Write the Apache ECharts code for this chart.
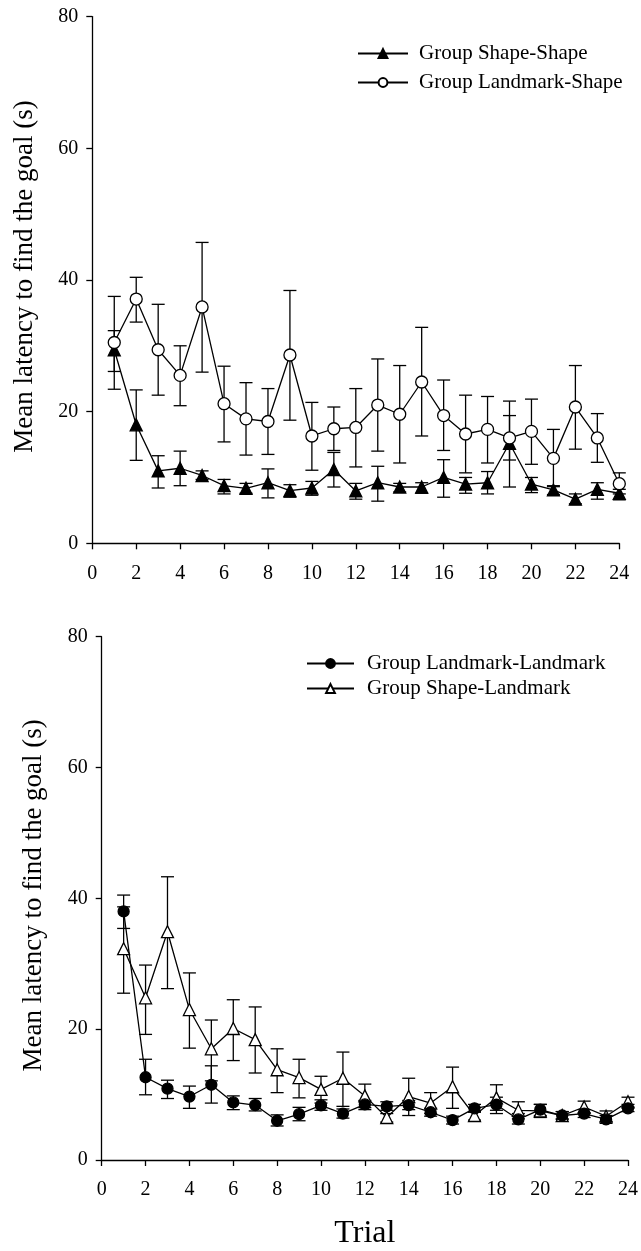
<!DOCTYPE html>
<html>
<head>
<meta charset="utf-8">
<script src="https://cdn.jsdelivr.net/npm/echarts@6/dist/echarts.min.js"></script>
<style>
html,body{margin:0;padding:0;background:#fff;}
#chart{width:641px;height:1251px;}
</style>
</head>
<body>
<div id="chart"></div>
<script>
// ---- data ----
const trials = [1,2,3,4,5,6,7,8,9,10,11,12,13,14,15,16,17,18,19,20,21,22,23,24];
const xTicks = [0,2,4,6,8,10,12,14,16,18,20,22,24];
const yTicks = [0,20,40,60,80];

// Top panel: Group Shape-Shape (filled triangles)
const shapeShapeMean = [29.4,18.0,11.0,11.4,10.3,8.75,8.35,9.2,8.0,8.4,11.2,7.95,9.2,8.55,8.55,10.0,9.0,9.2,15.2,9.0,8.1,6.7,8.2,7.6];
const shapeShapeHi   = [32.3,23.3,13.3,14.0,11.0,9.7,9.1,11.3,8.9,9.4,13.8,9.1,11.7,9.1,9.2,12.7,10.0,10.9,21.6,10.0,8.75,7.5,9.2,8.2];
const shapeShapeLo   = [26.1,12.6,8.4,8.75,9.7,7.5,7.6,6.9,7.0,7.3,8.55,6.7,6.4,7.8,7.6,7.0,7.6,7.5,8.55,7.7,7.4,6.0,6.7,6.6];

// Top panel: Group Landmark-Shape (open circles)
const landmarkShapeMean = [30.5,37.1,29.4,25.5,35.9,21.2,18.9,18.5,28.6,16.3,17.4,17.6,21.0,19.6,24.5,19.4,16.6,17.3,16.0,17.0,12.9,20.7,16.0,9.05];
const landmarkShapeHi   = [37.5,40.4,36.3,30.0,45.7,26.9,24.4,23.5,38.4,21.4,20.7,23.5,28.0,27.0,32.8,24.8,22.5,22.3,19.4,21.9,17.3,27.0,19.7,10.7];
const landmarkShapeLo   = [23.4,33.6,22.5,20.9,26.0,15.4,13.4,13.5,18.7,11.1,14.1,11.6,14.0,12.2,16.3,14.1,10.7,12.2,12.65,12.0,8.6,14.3,12.3,7.5];

// Bottom panel: Group Landmark-Landmark (filled circles)
const landmarkLandmarkMean = [38.0,12.65,10.9,9.7,11.5,8.8,8.4,6.0,7.0,8.35,7.1,8.5,8.2,8.4,7.3,6.1,7.9,8.45,6.2,7.7,6.8,7.1,6.2,7.9];
const landmarkLandmarkHi   = [40.5,15.4,12.2,11.3,14.4,9.8,9.4,6.9,8.05,9.2,7.8,9.1,8.9,9.1,7.9,6.7,8.5,9.6,7.1,8.5,7.4,7.7,6.8,8.5];
const landmarkLandmarkLo   = [35.4,9.97,9.4,7.9,8.7,7.7,7.5,5.2,6.0,7.6,6.4,7.7,7.6,7.7,6.7,5.5,7.3,7.1,5.5,6.8,6.3,6.5,5.6,7.4];

// Bottom panel: Group Shape-Landmark (open triangles)
const shapeLandmarkMean = [32.3,24.8,34.9,23.0,17.0,20.1,18.4,13.8,12.6,10.8,12.5,9.8,6.5,9.7,8.7,11.2,6.8,9.5,7.6,7.5,6.8,8.1,6.7,8.9];
const shapeLandmarkHi   = [38.7,29.8,43.3,28.6,21.4,24.5,23.4,17.0,15.4,12.8,16.5,11.6,7.1,12.5,10.3,14.2,7.4,11.5,8.9,8.5,7.4,9.0,7.5,9.6];
const shapeLandmarkLo   = [25.5,19.2,26.2,17.1,12.1,15.2,13.3,10.3,9.5,8.7,8.2,8.0,5.8,6.8,7.1,7.9,6.1,7.6,6.3,6.5,6.2,7.2,5.9,8.1];

const seriesNames = ['Group Shape-Shape','Group Landmark-Shape','Group Landmark-Landmark','Group Shape-Landmark'];
const yAxisTitle = 'Mean latency to find the goal (s)';
const xAxisTitle = 'Trial';

// ---- helpers ----
const FONT = 'Liberation Serif, Times New Roman, serif';
function pts(mean){ return trials.map((t,i)=>[t,mean[i]]); }
function errs(lo,hi){ return trials.map((t,i)=>[t,lo[i],hi[i]]); }

function errorRender(params, api){
  const x = api.value(0);
  const pLo = api.coord([x, api.value(1)]);
  const pHi = api.coord([x, api.value(2)]);
  const hw = 6.5;
  const st = {stroke:'#000', lineWidth:1.3};
  return {
    type:'group',
    children:[
      {type:'line', shape:{x1:pLo[0],y1:pLo[1],x2:pHi[0],y2:pHi[1]}, style:st},
      {type:'line', shape:{x1:pHi[0]-hw,y1:pHi[1],x2:pHi[0]+hw,y2:pHi[1]}, style:st},
      {type:'line', shape:{x1:pLo[0]-hw,y1:pLo[1],x2:pLo[0]+hw,y2:pLo[1]}, style:st}
    ]
  };
}

function xAxisDef(idx, withName){
  const a = {
    type:'value', gridIndex:idx, min:xTicks[0], max:xTicks[xTicks.length-1], interval:xTicks[1]-xTicks[0],
    axisLine:{show:true, onZero:false, lineStyle:{color:'#000', width:1.3}},
    axisTick:{show:true, inside:false, length:6, lineStyle:{color:'#000', width:1.3}},
    axisLabel:{color:'#000', fontFamily:FONT, fontSize:20, margin:20, showMinLabel:true, showMaxLabel:true},
    splitLine:{show:false}
  };
  if(withName){
    a.name = xAxisTitle; a.nameLocation='middle'; a.nameGap=58;
    a.nameTextStyle = {color:'#000', fontFamily:FONT, fontSize:32};
  }
  return a;
}
function yAxisDef(idx, pad){
  return {
    type:'value', gridIndex:idx, min:yTicks[0], max:yTicks[yTicks.length-1], interval:yTicks[1]-yTicks[0],
    axisLine:{show:true, onZero:false, lineStyle:{color:'#000', width:1.3}},
    axisTick:{show:true, inside:false, length:6, lineStyle:{color:'#000', width:1.3}},
    axisLabel:{color:'#000', fontFamily:FONT, fontSize:20, margin:14},
    splitLine:{show:false},
    name: yAxisTitle, nameLocation:'middle', nameRotate:90, nameGap:54,
    nameTextStyle:{color:'#000', fontFamily:FONT, fontSize:27, padding:pad}
  };
}

function lineSeries(name, mean, xi, symbol, filled, size){
  return {
    name:name, type:'line', xAxisIndex:xi, yAxisIndex:xi, data:pts(mean),
    symbol:symbol, symbolSize:size, showSymbol:true, z:3,
    lineStyle:{color:'#000', width:1.3},
    itemStyle:{color: filled ? '#000' : '#fff', borderColor:'#000', borderWidth:1.3},
    emphasis:{disabled:true}, animation:false
  };
}
function errSeries(lo, hi, xi){
  return {
    type:'custom', xAxisIndex:xi, yAxisIndex:xi, data:errs(lo,hi),
    renderItem:errorRender, encode:{x:0, y:[1,2]}, z:1, silent:true, animation:false
  };
}

const legendTextTop = {color:'#000', fontFamily:FONT, fontSize:21, lineHeight:21, padding:[0,0,0,6]};
const legendTextBot = {color:'#000', fontFamily:FONT, fontSize:21, lineHeight:21, padding:[0,0,0,8]};

const option = {
  backgroundColor:'#fff',
  animation:false,
  grid:[
    {left:92.3, right:21.7, top:16.6, height:526.7},
    {left:101.7, right:12.3, top:636.7, height:526.6}
  ],
  xAxis:[xAxisDef(0,false), xAxisDef(1,true)],
  yAxis:[yAxisDef(0,[0,0,0,7]), yAxisDef(1,[0,0,0,6])],
  legend:[
    {data:[seriesNames[0],seriesNames[1]], orient:'vertical', left:352, top:38, itemWidth:50, itemHeight:11, itemGap:8, textStyle:legendTextTop, selectedMode:false},
    {data:[seriesNames[2],seriesNames[3]], orient:'vertical', left:301, top:648, itemWidth:47, itemHeight:11, itemGap:4, textStyle:legendTextBot, selectedMode:false}
  ],
  series:[
    errSeries(shapeShapeLo, shapeShapeHi, 0),
    errSeries(landmarkShapeLo, landmarkShapeHi, 0),
    lineSeries(seriesNames[0], shapeShapeMean, 0, 'triangle', true, 12),
    lineSeries(seriesNames[1], landmarkShapeMean, 0, 'circle', false, 12),
    errSeries(landmarkLandmarkLo, landmarkLandmarkHi, 1),
    errSeries(shapeLandmarkLo, shapeLandmarkHi, 1),
    lineSeries(seriesNames[3], shapeLandmarkMean, 1, 'triangle', false, 12),
    lineSeries(seriesNames[2], landmarkLandmarkMean, 1, 'circle', true, 11)
  ]
};

const chart = echarts.init(document.getElementById('chart'), null, {renderer:'canvas'});
chart.setOption(option);
</script>
</body>
</html>
